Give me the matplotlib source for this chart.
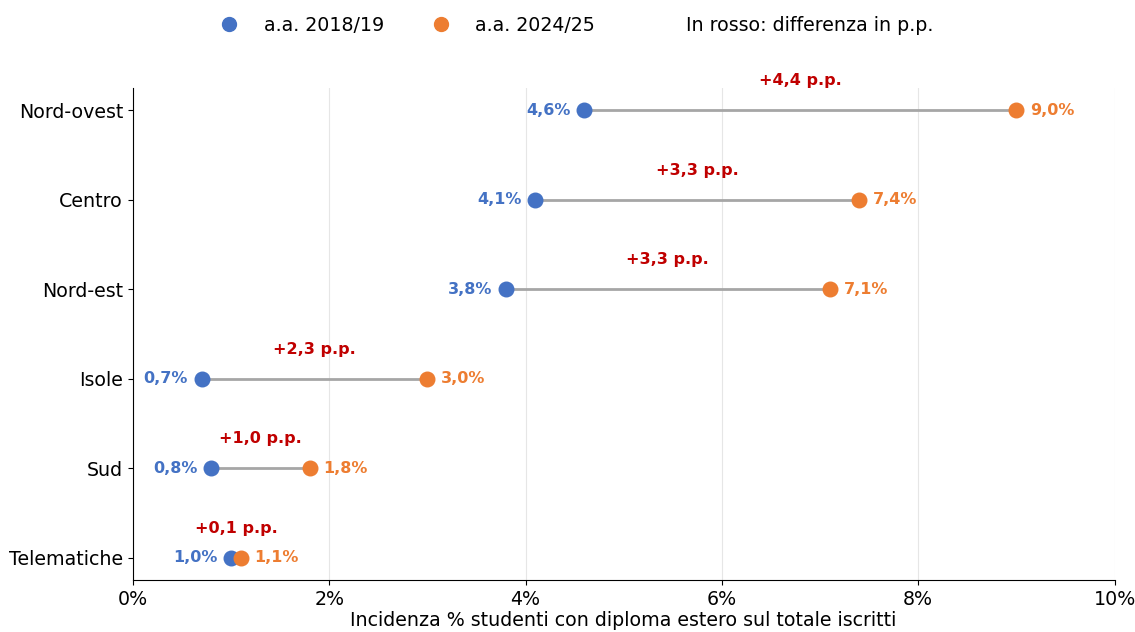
import matplotlib.pyplot as plt
from matplotlib.lines import Line2D
from matplotlib.patches import Patch

# data
regioni = ["Telematiche", "Sud", "Isole", "Nord-est", "Centro", "Nord-ovest"]
val_2018 = [1.0, 0.8, 0.7, 3.8, 4.1, 4.6]
val_2024 = [1.1, 1.8, 3.0, 7.1, 7.4, 9.0]
xticks = [0, 2, 4, 6, 8, 10]

blu = "#4472C4"
arancio = "#ED7D31"
rosso = "#C00000"


def fmt(v):
    return f"{v:.1f}".replace(".", ",")


fig = plt.figure(figsize=(11.35, 6.32), dpi=100)
ax = fig.add_axes([0.117, 0.082, 0.865, 0.779])

ypos = list(range(len(regioni)))
for y, a, b in zip(ypos, val_2018, val_2024):
    ax.plot([a, b], [y, y], color="#A6A6A6", lw=2, zorder=1)
ax.scatter(val_2018, ypos, s=110, color=blu, zorder=3)
ax.scatter(val_2024, ypos, s=110, color=arancio, zorder=3)

for y, a, b in zip(ypos, val_2018, val_2024):
    ax.annotate(fmt(a) + "%", (a, y), xytext=(-10, 0), textcoords="offset points",
                ha="right", va="center", color=blu, fontsize=11.5, fontweight="bold")
    ax.annotate(fmt(b) + "%", (b, y), xytext=(10, 0), textcoords="offset points",
                ha="left", va="center", color=arancio, fontsize=11.5, fontweight="bold")
    d = b - a
    ax.annotate(f"+{fmt(d)} p.p.", ((a + b) / 2, y), xytext=(0, 16),
                textcoords="offset points", ha="center", va="bottom",
                color=rosso, fontsize=11.5, fontweight="bold")

ax.set_xlim(0, 10)
ax.set_xticks(xticks)
ax.set_xticklabels([f"{t}%" for t in xticks], fontsize=13.7)
ax.set_yticks(ypos)
ax.set_yticklabels(regioni, fontsize=13.7)
ax.set_xlabel("Incidenza % studenti con diploma estero sul totale iscritti",
              fontsize=13.7, labelpad=1.5)
ax.xaxis.grid(True, color="#E6E6E6", lw=0.8)
ax.set_axisbelow(True)
ax.spines["top"].set_visible(False)
ax.spines["right"].set_visible(False)

handles = [
    Line2D([], [], marker="o", ls="", color=blu, markersize=10),
    Line2D([], [], marker="o", ls="", color=arancio, markersize=10),
    Patch(facecolor="none", edgecolor="none"),
]
labels = ["a.a. 2018/19", "a.a. 2024/25", "In rosso: differenza in p.p."]
fig.legend(handles, labels, loc="center", bbox_to_anchor=(0.504, 0.96), ncol=3,
           frameon=False, fontsize=13.7, handletextpad=0.8, columnspacing=2)

fig.savefig("out.png", dpi=100)
